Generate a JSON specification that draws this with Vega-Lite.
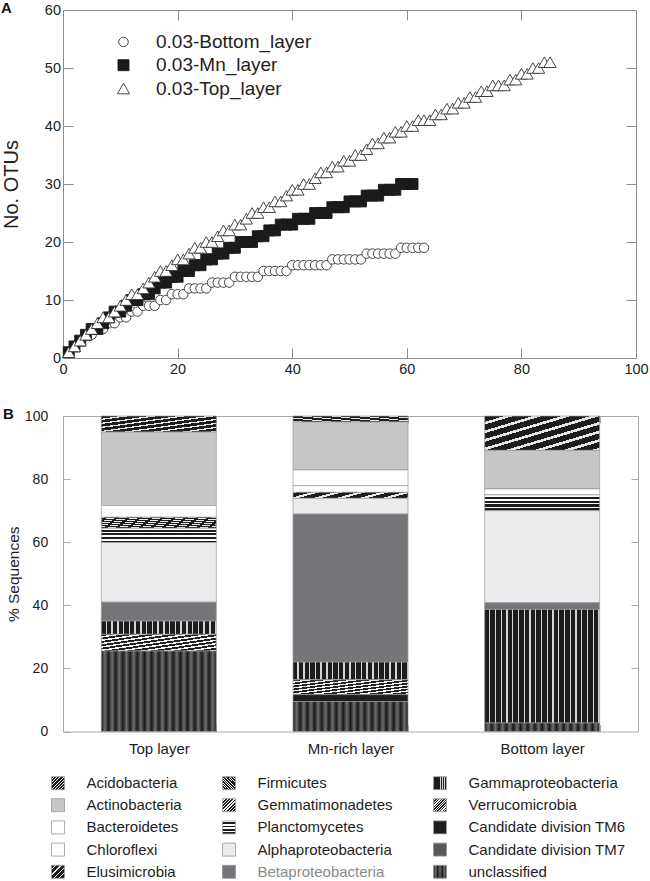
{
  "$schema": "https://vega.github.io/schema/vega-lite/v6.json",
  "padding": 0,
  "autosize": {"type": "pad"},
  "spacing": 29,
  "resolve": {
    "scale": {"x": "independent", "y": "independent", "fill": "independent", "stroke": "independent", "shape": "independent", "size": "independent"},
    "legend": {"fill": "independent", "stroke": "independent", "shape": "independent", "size": "independent"},
    "axis": {"x": "independent", "y": "independent"}
  },
  "config": {
    "font": "Liberation Sans",
    "view": {"strokeWidth": 1},
    "axis": {"labelFont": "Liberation Sans", "titleFont": "Liberation Sans", "labelColor": "#222", "titleColor": "#222", "titleFontWeight": "normal", "tickColor": "#8c8c8c", "tickWidth": 1, "domain": false, "grid": false, "labelFlush": false, "labelOverlap": false, "labelBound": false},
    "legend": {"labelFont": "Liberation Sans", "labelColor": "#222"},
    "title": {"font": "Liberation Sans", "fontWeight": "bold", "color": "#111"}
  },
  "vconcat": [
    {
      "width": 573,
      "height": 348,
      "view": {"stroke": "#8c8c8c"},
      "title": {"text": "A", "anchor": "start", "frame": "group", "orient": "top", "baseline": "middle", "offset": -6, "dy": 14.7, "dx": -62, "fontSize": 15},
      "data": {"values": [
        {"series":"0.03-Bottom_layer","seqs":1,"otus":1},{"series":"0.03-Bottom_layer","seqs":2,"otus":2},{"series":"0.03-Bottom_layer","seqs":3,"otus":3},{"series":"0.03-Bottom_layer","seqs":4,"otus":4},{"series":"0.03-Bottom_layer","seqs":5,"otus":4},{"series":"0.03-Bottom_layer","seqs":6,"otus":5},{"series":"0.03-Bottom_layer","seqs":7,"otus":5},{"series":"0.03-Bottom_layer","seqs":8,"otus":6},{"series":"0.03-Bottom_layer","seqs":9,"otus":6},{"series":"0.03-Bottom_layer","seqs":10,"otus":7},
        {"series":"0.03-Bottom_layer","seqs":11,"otus":7},{"series":"0.03-Bottom_layer","seqs":12,"otus":8},{"series":"0.03-Bottom_layer","seqs":13,"otus":8},{"series":"0.03-Bottom_layer","seqs":14,"otus":9},{"series":"0.03-Bottom_layer","seqs":15,"otus":9},{"series":"0.03-Bottom_layer","seqs":16,"otus":9},{"series":"0.03-Bottom_layer","seqs":17,"otus":10},{"series":"0.03-Bottom_layer","seqs":18,"otus":10},{"series":"0.03-Bottom_layer","seqs":19,"otus":11},{"series":"0.03-Bottom_layer","seqs":20,"otus":11},
        {"series":"0.03-Bottom_layer","seqs":21,"otus":11},{"series":"0.03-Bottom_layer","seqs":22,"otus":12},{"series":"0.03-Bottom_layer","seqs":23,"otus":12},{"series":"0.03-Bottom_layer","seqs":24,"otus":12},{"series":"0.03-Bottom_layer","seqs":25,"otus":12},{"series":"0.03-Bottom_layer","seqs":26,"otus":13},{"series":"0.03-Bottom_layer","seqs":27,"otus":13},{"series":"0.03-Bottom_layer","seqs":28,"otus":13},{"series":"0.03-Bottom_layer","seqs":29,"otus":13},{"series":"0.03-Bottom_layer","seqs":30,"otus":14},
        {"series":"0.03-Bottom_layer","seqs":31,"otus":14},{"series":"0.03-Bottom_layer","seqs":32,"otus":14},{"series":"0.03-Bottom_layer","seqs":33,"otus":14},{"series":"0.03-Bottom_layer","seqs":34,"otus":14},{"series":"0.03-Bottom_layer","seqs":35,"otus":15},{"series":"0.03-Bottom_layer","seqs":36,"otus":15},{"series":"0.03-Bottom_layer","seqs":37,"otus":15},{"series":"0.03-Bottom_layer","seqs":38,"otus":15},{"series":"0.03-Bottom_layer","seqs":39,"otus":15},{"series":"0.03-Bottom_layer","seqs":40,"otus":16},
        {"series":"0.03-Bottom_layer","seqs":41,"otus":16},{"series":"0.03-Bottom_layer","seqs":42,"otus":16},{"series":"0.03-Bottom_layer","seqs":43,"otus":16},{"series":"0.03-Bottom_layer","seqs":44,"otus":16},{"series":"0.03-Bottom_layer","seqs":45,"otus":16},{"series":"0.03-Bottom_layer","seqs":46,"otus":16},{"series":"0.03-Bottom_layer","seqs":47,"otus":17},{"series":"0.03-Bottom_layer","seqs":48,"otus":17},{"series":"0.03-Bottom_layer","seqs":49,"otus":17},{"series":"0.03-Bottom_layer","seqs":50,"otus":17},
        {"series":"0.03-Bottom_layer","seqs":51,"otus":17},{"series":"0.03-Bottom_layer","seqs":52,"otus":17},{"series":"0.03-Bottom_layer","seqs":53,"otus":18},{"series":"0.03-Bottom_layer","seqs":54,"otus":18},{"series":"0.03-Bottom_layer","seqs":55,"otus":18},{"series":"0.03-Bottom_layer","seqs":56,"otus":18},{"series":"0.03-Bottom_layer","seqs":57,"otus":18},{"series":"0.03-Bottom_layer","seqs":58,"otus":18},{"series":"0.03-Bottom_layer","seqs":59,"otus":19},{"series":"0.03-Bottom_layer","seqs":60,"otus":19},
        {"series":"0.03-Bottom_layer","seqs":61,"otus":19},{"series":"0.03-Bottom_layer","seqs":62,"otus":19},{"series":"0.03-Bottom_layer","seqs":63,"otus":19},
        {"series":"0.03-Mn_layer","seqs":1,"otus":1},{"series":"0.03-Mn_layer","seqs":2,"otus":2},{"series":"0.03-Mn_layer","seqs":3,"otus":3},{"series":"0.03-Mn_layer","seqs":4,"otus":4},{"series":"0.03-Mn_layer","seqs":5,"otus":5},{"series":"0.03-Mn_layer","seqs":6,"otus":5},{"series":"0.03-Mn_layer","seqs":7,"otus":6},{"series":"0.03-Mn_layer","seqs":8,"otus":7},{"series":"0.03-Mn_layer","seqs":9,"otus":8},{"series":"0.03-Mn_layer","seqs":10,"otus":8},
        {"series":"0.03-Mn_layer","seqs":11,"otus":9},{"series":"0.03-Mn_layer","seqs":12,"otus":10},{"series":"0.03-Mn_layer","seqs":13,"otus":10},{"series":"0.03-Mn_layer","seqs":14,"otus":11},{"series":"0.03-Mn_layer","seqs":15,"otus":11},{"series":"0.03-Mn_layer","seqs":16,"otus":12},{"series":"0.03-Mn_layer","seqs":17,"otus":13},{"series":"0.03-Mn_layer","seqs":18,"otus":13},{"series":"0.03-Mn_layer","seqs":19,"otus":14},{"series":"0.03-Mn_layer","seqs":20,"otus":14},
        {"series":"0.03-Mn_layer","seqs":21,"otus":15},{"series":"0.03-Mn_layer","seqs":22,"otus":15},{"series":"0.03-Mn_layer","seqs":23,"otus":16},{"series":"0.03-Mn_layer","seqs":24,"otus":16},{"series":"0.03-Mn_layer","seqs":25,"otus":17},{"series":"0.03-Mn_layer","seqs":26,"otus":17},{"series":"0.03-Mn_layer","seqs":27,"otus":18},{"series":"0.03-Mn_layer","seqs":28,"otus":18},{"series":"0.03-Mn_layer","seqs":29,"otus":19},{"series":"0.03-Mn_layer","seqs":30,"otus":19},
        {"series":"0.03-Mn_layer","seqs":31,"otus":20},{"series":"0.03-Mn_layer","seqs":32,"otus":20},{"series":"0.03-Mn_layer","seqs":33,"otus":20},{"series":"0.03-Mn_layer","seqs":34,"otus":21},{"series":"0.03-Mn_layer","seqs":35,"otus":21},{"series":"0.03-Mn_layer","seqs":36,"otus":22},{"series":"0.03-Mn_layer","seqs":37,"otus":22},{"series":"0.03-Mn_layer","seqs":38,"otus":23},{"series":"0.03-Mn_layer","seqs":39,"otus":23},{"series":"0.03-Mn_layer","seqs":40,"otus":23},
        {"series":"0.03-Mn_layer","seqs":41,"otus":24},{"series":"0.03-Mn_layer","seqs":42,"otus":24},{"series":"0.03-Mn_layer","seqs":43,"otus":24},{"series":"0.03-Mn_layer","seqs":44,"otus":25},{"series":"0.03-Mn_layer","seqs":45,"otus":25},{"series":"0.03-Mn_layer","seqs":46,"otus":25},{"series":"0.03-Mn_layer","seqs":47,"otus":26},{"series":"0.03-Mn_layer","seqs":48,"otus":26},{"series":"0.03-Mn_layer","seqs":49,"otus":26},{"series":"0.03-Mn_layer","seqs":50,"otus":27},
        {"series":"0.03-Mn_layer","seqs":51,"otus":27},{"series":"0.03-Mn_layer","seqs":52,"otus":27},{"series":"0.03-Mn_layer","seqs":53,"otus":28},{"series":"0.03-Mn_layer","seqs":54,"otus":28},{"series":"0.03-Mn_layer","seqs":55,"otus":28},{"series":"0.03-Mn_layer","seqs":56,"otus":29},{"series":"0.03-Mn_layer","seqs":57,"otus":29},{"series":"0.03-Mn_layer","seqs":58,"otus":29},{"series":"0.03-Mn_layer","seqs":59,"otus":30},{"series":"0.03-Mn_layer","seqs":60,"otus":30},
        {"series":"0.03-Mn_layer","seqs":61,"otus":30},
        {"series":"0.03-Top_layer","seqs":1,"otus":1},{"series":"0.03-Top_layer","seqs":2,"otus":2},{"series":"0.03-Top_layer","seqs":3,"otus":3},{"series":"0.03-Top_layer","seqs":4,"otus":4},{"series":"0.03-Top_layer","seqs":5,"otus":5},{"series":"0.03-Top_layer","seqs":6,"otus":6},{"series":"0.03-Top_layer","seqs":7,"otus":7},{"series":"0.03-Top_layer","seqs":8,"otus":7},{"series":"0.03-Top_layer","seqs":9,"otus":8},{"series":"0.03-Top_layer","seqs":10,"otus":9},
        {"series":"0.03-Top_layer","seqs":11,"otus":10},{"series":"0.03-Top_layer","seqs":12,"otus":11},{"series":"0.03-Top_layer","seqs":13,"otus":11},{"series":"0.03-Top_layer","seqs":14,"otus":12},{"series":"0.03-Top_layer","seqs":15,"otus":13},{"series":"0.03-Top_layer","seqs":16,"otus":14},{"series":"0.03-Top_layer","seqs":17,"otus":15},{"series":"0.03-Top_layer","seqs":18,"otus":15},{"series":"0.03-Top_layer","seqs":19,"otus":16},{"series":"0.03-Top_layer","seqs":20,"otus":17},
        {"series":"0.03-Top_layer","seqs":21,"otus":17},{"series":"0.03-Top_layer","seqs":22,"otus":18},{"series":"0.03-Top_layer","seqs":23,"otus":19},{"series":"0.03-Top_layer","seqs":24,"otus":19},{"series":"0.03-Top_layer","seqs":25,"otus":20},{"series":"0.03-Top_layer","seqs":26,"otus":20},{"series":"0.03-Top_layer","seqs":27,"otus":21},{"series":"0.03-Top_layer","seqs":28,"otus":22},{"series":"0.03-Top_layer","seqs":29,"otus":22},{"series":"0.03-Top_layer","seqs":30,"otus":23},
        {"series":"0.03-Top_layer","seqs":31,"otus":23},{"series":"0.03-Top_layer","seqs":32,"otus":24},{"series":"0.03-Top_layer","seqs":33,"otus":25},{"series":"0.03-Top_layer","seqs":34,"otus":25},{"series":"0.03-Top_layer","seqs":35,"otus":26},{"series":"0.03-Top_layer","seqs":36,"otus":26},{"series":"0.03-Top_layer","seqs":37,"otus":27},{"series":"0.03-Top_layer","seqs":38,"otus":27},{"series":"0.03-Top_layer","seqs":39,"otus":28},{"series":"0.03-Top_layer","seqs":40,"otus":29},
        {"series":"0.03-Top_layer","seqs":41,"otus":29},{"series":"0.03-Top_layer","seqs":42,"otus":30},{"series":"0.03-Top_layer","seqs":43,"otus":30},{"series":"0.03-Top_layer","seqs":44,"otus":31},{"series":"0.03-Top_layer","seqs":45,"otus":32},{"series":"0.03-Top_layer","seqs":46,"otus":32},{"series":"0.03-Top_layer","seqs":47,"otus":33},{"series":"0.03-Top_layer","seqs":48,"otus":33},{"series":"0.03-Top_layer","seqs":49,"otus":34},{"series":"0.03-Top_layer","seqs":50,"otus":34},
        {"series":"0.03-Top_layer","seqs":51,"otus":35},{"series":"0.03-Top_layer","seqs":52,"otus":35},{"series":"0.03-Top_layer","seqs":53,"otus":36},{"series":"0.03-Top_layer","seqs":54,"otus":37},{"series":"0.03-Top_layer","seqs":55,"otus":37},{"series":"0.03-Top_layer","seqs":56,"otus":38},{"series":"0.03-Top_layer","seqs":57,"otus":38},{"series":"0.03-Top_layer","seqs":58,"otus":39},{"series":"0.03-Top_layer","seqs":59,"otus":39},{"series":"0.03-Top_layer","seqs":60,"otus":40},
        {"series":"0.03-Top_layer","seqs":61,"otus":40},{"series":"0.03-Top_layer","seqs":62,"otus":41},{"series":"0.03-Top_layer","seqs":63,"otus":41},{"series":"0.03-Top_layer","seqs":64,"otus":41},{"series":"0.03-Top_layer","seqs":65,"otus":42},{"series":"0.03-Top_layer","seqs":66,"otus":42},{"series":"0.03-Top_layer","seqs":67,"otus":43},{"series":"0.03-Top_layer","seqs":68,"otus":43},{"series":"0.03-Top_layer","seqs":69,"otus":44},{"series":"0.03-Top_layer","seqs":70,"otus":44},
        {"series":"0.03-Top_layer","seqs":71,"otus":45},{"series":"0.03-Top_layer","seqs":72,"otus":45},{"series":"0.03-Top_layer","seqs":73,"otus":46},{"series":"0.03-Top_layer","seqs":74,"otus":46},{"series":"0.03-Top_layer","seqs":75,"otus":47},{"series":"0.03-Top_layer","seqs":76,"otus":47},{"series":"0.03-Top_layer","seqs":77,"otus":47},{"series":"0.03-Top_layer","seqs":78,"otus":48},{"series":"0.03-Top_layer","seqs":79,"otus":48},{"series":"0.03-Top_layer","seqs":80,"otus":49},
        {"series":"0.03-Top_layer","seqs":81,"otus":49},{"series":"0.03-Top_layer","seqs":82,"otus":50},{"series":"0.03-Top_layer","seqs":83,"otus":50},{"series":"0.03-Top_layer","seqs":84,"otus":51},{"series":"0.03-Top_layer","seqs":85,"otus":51}
      ]},
      "layer": [
        {
          "mark": {"type": "point", "filled": true, "strokeWidth": 0.9, "opacity": 1},
          "encoding": {
            "x": {"field": "seqs", "type": "quantitative", "scale": {"domain": [0, 100], "nice": false}, "axis": {"orient": "bottom", "values": [0, 20, 40, 60, 80, 100], "tickSize": -10, "labelPadding": 14.7, "title": null, "labelFontSize": 14.5}},
            "y": {"field": "otus", "type": "quantitative", "scale": {"domain": [0, 60], "nice": false}, "axis": {"orient": "left", "values": [0, 10, 20, 30, 40, 50, 60], "tickSize": -10, "labelPadding": 12.5, "labelFontSize": 14.5, "title": "No. OTUs", "titleFontSize": 20, "titlePadding": 23}},
            "shape": {"field": "series", "type": "nominal", "scale": {"domain": ["0.03-Bottom_layer", "0.03-Mn_layer", "0.03-Top_layer"], "range": ["circle", "square", "triangle-up"]}, "legend": {"orient": "none", "legendX": 51, "legendY": 22.4, "title": null, "labelFontSize": 19, "labelOffset": 23, "rowPadding": 3.3, "padding": 0, "symbolStrokeWidth": 0.9}},
            "fill": {"field": "series", "type": "nominal", "scale": {"domain": ["0.03-Bottom_layer", "0.03-Mn_layer", "0.03-Top_layer"], "range": ["#ffffff", "#1b1b1b", "#ffffff"]}, "legend": {"orient": "none", "legendX": 51, "legendY": 22.4, "title": null, "labelFontSize": 19, "labelOffset": 23, "rowPadding": 3.3, "padding": 0, "symbolStrokeWidth": 0.9}},
            "stroke": {"field": "series", "type": "nominal", "scale": {"domain": ["0.03-Bottom_layer", "0.03-Mn_layer", "0.03-Top_layer"], "range": ["#333333", "#1b1b1b", "#333333"]}, "legend": {"orient": "none", "legendX": 51, "legendY": 22.4, "title": null, "labelFontSize": 19, "labelOffset": 23, "rowPadding": 3.3, "padding": 0, "symbolStrokeWidth": 0.9}},
            "size": {"field": "series", "type": "nominal", "scale": {"domain": ["0.03-Bottom_layer", "0.03-Mn_layer", "0.03-Top_layer"], "range": [90, 150, 120]}, "legend": {"orient": "none", "legendX": 51, "legendY": 22.4, "title": null, "labelFontSize": 19, "labelOffset": 23, "rowPadding": 3.3, "padding": 0, "symbolStrokeWidth": 0.9}}
          }
        },
        {
          "mark": {"type": "point", "opacity": 0},
          "encoding": {
            "x": {"field": "seqs", "type": "quantitative", "scale": {"domain": [0, 100], "nice": false}, "axis": {"orient": "top", "values": [20, 40, 60, 80], "tickSize": -10, "labels": false, "title": null}},
            "y": {"field": "otus", "type": "quantitative", "scale": {"domain": [0, 60], "nice": false}, "axis": {"orient": "right", "values": [10, 20, 30, 40, 50], "tickSize": -10, "labels": false, "title": null}}
          }
        }
      ],
      "resolve": {"axis": {"x": "independent", "y": "independent"}}
    },
    {
      "width": 575,
      "height": 315.5,
      "view": {"stroke": "#aaaaaa"},
      "title": {"text": "B", "anchor": "start", "frame": "group", "orient": "top", "baseline": "middle", "offset": -4.75, "dy": 15, "dx": -60, "fontSize": 15},
      "data": {"values": [
        {"layer":"Top layer","taxon":"Acidobacteria","rank":1,"pct":5.1},
        {"layer":"Top layer","taxon":"Actinobacteria","rank":2,"pct":23.3},
        {"layer":"Top layer","taxon":"Bacteroidetes","rank":3,"pct":3.7},
        {"layer":"Top layer","taxon":"Firmicutes","rank":6,"pct":3.5},
        {"layer":"Top layer","taxon":"Planctomycetes","rank":8,"pct":4.5},
        {"layer":"Top layer","taxon":"Alphaproteobacteria","rank":9,"pct":18.9},
        {"layer":"Top layer","taxon":"Betaproteobacteria","rank":10,"pct":6.0},
        {"layer":"Top layer","taxon":"Gammaproteobacteria","rank":11,"pct":4.2},
        {"layer":"Top layer","taxon":"Verrucomicrobia","rank":12,"pct":5.3},
        {"layer":"Top layer","taxon":"unclassified","rank":15,"pct":25.5},
        {"layer":"Mn-rich layer","taxon":"Acidobacteria","rank":1,"pct":1.9},
        {"layer":"Mn-rich layer","taxon":"Actinobacteria","rank":2,"pct":15.2},
        {"layer":"Mn-rich layer","taxon":"Bacteroidetes","rank":3,"pct":5.0},
        {"layer":"Mn-rich layer","taxon":"Chloroflexi","rank":4,"pct":2.1},
        {"layer":"Mn-rich layer","taxon":"Firmicutes","rank":6,"pct":1.9},
        {"layer":"Mn-rich layer","taxon":"Alphaproteobacteria","rank":9,"pct":5.0},
        {"layer":"Mn-rich layer","taxon":"Betaproteobacteria","rank":10,"pct":46.9},
        {"layer":"Mn-rich layer","taxon":"Gammaproteobacteria","rank":11,"pct":5.6},
        {"layer":"Mn-rich layer","taxon":"Verrucomicrobia","rank":12,"pct":4.7},
        {"layer":"Mn-rich layer","taxon":"Candidate division TM6","rank":13,"pct":2.2},
        {"layer":"Mn-rich layer","taxon":"unclassified","rank":15,"pct":9.5},
        {"layer":"Bottom layer","taxon":"Acidobacteria","rank":1,"pct":10.9},
        {"layer":"Bottom layer","taxon":"Actinobacteria","rank":2,"pct":12.2},
        {"layer":"Bottom layer","taxon":"Bacteroidetes","rank":3,"pct":1.9},
        {"layer":"Bottom layer","taxon":"Planctomycetes","rank":8,"pct":5.0},
        {"layer":"Bottom layer","taxon":"Alphaproteobacteria","rank":9,"pct":29.2},
        {"layer":"Bottom layer","taxon":"Betaproteobacteria","rank":10,"pct":2.1},
        {"layer":"Bottom layer","taxon":"Gammaproteobacteria","rank":11,"pct":36.0},
        {"layer":"Bottom layer","taxon":"unclassified","rank":15,"pct":2.7}
      ]},
      "layer": [
        {
          "mark": {"type": "bar", "stroke": "#9a9a9a", "strokeWidth": 0.7},
          "encoding": {
            "x": {"field": "layer", "type": "nominal", "scale": {"domain": ["Top layer", "Mn-rich layer", "Bottom layer"], "paddingInner": 0.4, "paddingOuter": 0.2}, "axis": {"orient": "bottom", "title": null, "labelAngle": 0, "tickBand": "extent", "tickSize": -7, "labelPadding": 16.5, "labelFontSize": 15, "tickColor": "#aaaaaa"}},
            "y": {"field": "pct", "type": "quantitative", "stack": "zero", "scale": {"domain": [0, 100], "nice": false}, "axis": {"orient": "left", "values": [0, 20, 40, 60, 80, 100], "tickSize": -7, "labelPadding": 22.3, "labelFontSize": 14, "tickColor": "#aaaaaa", "title": "% Sequences", "titleFontSize": 15.5, "titlePadding": 3}},
            "order": {"field": "rank", "sort": "descending"},
            "fill": {
              "field": "taxon", "type": "nominal",
              "scale": {
                "domain": ["Acidobacteria", "Actinobacteria", "Bacteroidetes", "Chloroflexi", "Elusimicrobia", "Firmicutes", "Gemmatimonadetes", "Planctomycetes", "Alphaproteobacteria", "Betaproteobacteria", "Gammaproteobacteria", "Verrucomicrobia", "Candidate division TM6", "Candidate division TM7", "unclassified"],
                "range": [
                  {"expr": "{gradient:'linear',x1:0,y1:0,x2:1,y2:1,stops:[{offset:0,color:'#1d1d1d'},{offset:0.085,color:'#1d1d1d'},{offset:0.085,color:'#e6e6e6'},{offset:0.125,color:'#e6e6e6'},{offset:0.125,color:'#1d1d1d'},{offset:0.21,color:'#1d1d1d'},{offset:0.21,color:'#e6e6e6'},{offset:0.25,color:'#e6e6e6'},{offset:0.25,color:'#1d1d1d'},{offset:0.335,color:'#1d1d1d'},{offset:0.335,color:'#e6e6e6'},{offset:0.375,color:'#e6e6e6'},{offset:0.375,color:'#1d1d1d'},{offset:0.46,color:'#1d1d1d'},{offset:0.46,color:'#e6e6e6'},{offset:0.5,color:'#e6e6e6'},{offset:0.5,color:'#1d1d1d'},{offset:0.585,color:'#1d1d1d'},{offset:0.585,color:'#e6e6e6'},{offset:0.625,color:'#e6e6e6'},{offset:0.625,color:'#1d1d1d'},{offset:0.71,color:'#1d1d1d'},{offset:0.71,color:'#e6e6e6'},{offset:0.75,color:'#e6e6e6'},{offset:0.75,color:'#1d1d1d'},{offset:0.835,color:'#1d1d1d'},{offset:0.835,color:'#e6e6e6'},{offset:0.875,color:'#e6e6e6'},{offset:0.875,color:'#1d1d1d'},{offset:0.96,color:'#1d1d1d'},{offset:0.96,color:'#e6e6e6'},{offset:1,color:'#e6e6e6'}]}"},
                  "#c5c6c8",
                  "#ffffff",
                  "#ffffff",
                  {"expr": "{gradient:'linear',x1:0,y1:0,x2:1,y2:1,stops:[{offset:0,color:'#1d1d1d'},{offset:0.15,color:'#1d1d1d'},{offset:0.15,color:'#eeeeee'},{offset:0.2,color:'#eeeeee'},{offset:0.2,color:'#1d1d1d'},{offset:0.35,color:'#1d1d1d'},{offset:0.35,color:'#eeeeee'},{offset:0.4,color:'#eeeeee'},{offset:0.4,color:'#1d1d1d'},{offset:0.55,color:'#1d1d1d'},{offset:0.55,color:'#eeeeee'},{offset:0.6,color:'#eeeeee'},{offset:0.6,color:'#1d1d1d'},{offset:0.75,color:'#1d1d1d'},{offset:0.75,color:'#eeeeee'},{offset:0.8,color:'#eeeeee'},{offset:0.8,color:'#1d1d1d'},{offset:0.95,color:'#1d1d1d'},{offset:0.95,color:'#eeeeee'},{offset:1,color:'#eeeeee'}]}"},
                  {"expr": "{gradient:'linear',x1:0,y1:1,x2:1,y2:0,stops:[{offset:0,color:'#1d1d1d'},{offset:0.065,color:'#1d1d1d'},{offset:0.065,color:'#ececec'},{offset:0.1,color:'#ececec'},{offset:0.1,color:'#1d1d1d'},{offset:0.165,color:'#1d1d1d'},{offset:0.165,color:'#ececec'},{offset:0.2,color:'#ececec'},{offset:0.2,color:'#1d1d1d'},{offset:0.265,color:'#1d1d1d'},{offset:0.265,color:'#ececec'},{offset:0.3,color:'#ececec'},{offset:0.3,color:'#1d1d1d'},{offset:0.365,color:'#1d1d1d'},{offset:0.365,color:'#ececec'},{offset:0.4,color:'#ececec'},{offset:0.4,color:'#1d1d1d'},{offset:0.465,color:'#1d1d1d'},{offset:0.465,color:'#ececec'},{offset:0.5,color:'#ececec'},{offset:0.5,color:'#1d1d1d'},{offset:0.565,color:'#1d1d1d'},{offset:0.565,color:'#ececec'},{offset:0.6,color:'#ececec'},{offset:0.6,color:'#1d1d1d'},{offset:0.665,color:'#1d1d1d'},{offset:0.665,color:'#ececec'},{offset:0.7,color:'#ececec'},{offset:0.7,color:'#1d1d1d'},{offset:0.765,color:'#1d1d1d'},{offset:0.765,color:'#ececec'},{offset:0.8,color:'#ececec'},{offset:0.8,color:'#1d1d1d'},{offset:0.865,color:'#1d1d1d'},{offset:0.865,color:'#ececec'},{offset:0.9,color:'#ececec'},{offset:0.9,color:'#1d1d1d'},{offset:0.965,color:'#1d1d1d'},{offset:0.965,color:'#ececec'},{offset:1,color:'#ececec'}]}"},
                  {"expr": "{gradient:'linear',x1:0,y1:0,x2:1,y2:1,stops:[{offset:0,color:'#1d1d1d'},{offset:0.0625,color:'#1d1d1d'},{offset:0.0625,color:'#f2f2f2'},{offset:0.125,color:'#f2f2f2'},{offset:0.125,color:'#1d1d1d'},{offset:0.1875,color:'#1d1d1d'},{offset:0.1875,color:'#f2f2f2'},{offset:0.25,color:'#f2f2f2'},{offset:0.25,color:'#1d1d1d'},{offset:0.3125,color:'#1d1d1d'},{offset:0.3125,color:'#f2f2f2'},{offset:0.375,color:'#f2f2f2'},{offset:0.375,color:'#1d1d1d'},{offset:0.4375,color:'#1d1d1d'},{offset:0.4375,color:'#f2f2f2'},{offset:0.5,color:'#f2f2f2'},{offset:0.5,color:'#1d1d1d'},{offset:0.5625,color:'#1d1d1d'},{offset:0.5625,color:'#f2f2f2'},{offset:0.625,color:'#f2f2f2'},{offset:0.625,color:'#1d1d1d'},{offset:0.6875,color:'#1d1d1d'},{offset:0.6875,color:'#f2f2f2'},{offset:0.75,color:'#f2f2f2'},{offset:0.75,color:'#1d1d1d'},{offset:0.8125,color:'#1d1d1d'},{offset:0.8125,color:'#f2f2f2'},{offset:0.875,color:'#f2f2f2'},{offset:0.875,color:'#1d1d1d'},{offset:0.9375,color:'#1d1d1d'},{offset:0.9375,color:'#f2f2f2'},{offset:1,color:'#f2f2f2'}]}"},
                  {"expr": "{gradient:'linear',x1:0,y1:0,x2:0,y2:1,stops:[{offset:0,color:'#ffffff'},{offset:0.11,color:'#ffffff'},{offset:0.11,color:'#1d1d1d'},{offset:0.25,color:'#1d1d1d'},{offset:0.25,color:'#ffffff'},{offset:0.36,color:'#ffffff'},{offset:0.36,color:'#1d1d1d'},{offset:0.5,color:'#1d1d1d'},{offset:0.5,color:'#ffffff'},{offset:0.61,color:'#ffffff'},{offset:0.61,color:'#1d1d1d'},{offset:0.75,color:'#1d1d1d'},{offset:0.75,color:'#ffffff'},{offset:0.86,color:'#ffffff'},{offset:0.86,color:'#1d1d1d'},{offset:1,color:'#1d1d1d'}]}"},
                  "#ebecee",
                  "#747579",
                  {"expr": "{gradient:'linear',x1:0,y1:0,x2:1,y2:0,stops:[{offset:0,color:'#1d1d1d'},{offset:0.038,color:'#1d1d1d'},{offset:0.038,color:'#d4d4d4'},{offset:0.05,color:'#d4d4d4'},{offset:0.05,color:'#1d1d1d'},{offset:0.088,color:'#1d1d1d'},{offset:0.088,color:'#d4d4d4'},{offset:0.1,color:'#d4d4d4'},{offset:0.1,color:'#1d1d1d'},{offset:0.138,color:'#1d1d1d'},{offset:0.138,color:'#d4d4d4'},{offset:0.15,color:'#d4d4d4'},{offset:0.15,color:'#1d1d1d'},{offset:0.188,color:'#1d1d1d'},{offset:0.188,color:'#d4d4d4'},{offset:0.2,color:'#d4d4d4'},{offset:0.2,color:'#1d1d1d'},{offset:0.238,color:'#1d1d1d'},{offset:0.238,color:'#d4d4d4'},{offset:0.25,color:'#d4d4d4'},{offset:0.25,color:'#1d1d1d'},{offset:0.288,color:'#1d1d1d'},{offset:0.288,color:'#d4d4d4'},{offset:0.3,color:'#d4d4d4'},{offset:0.3,color:'#1d1d1d'},{offset:0.338,color:'#1d1d1d'},{offset:0.338,color:'#d4d4d4'},{offset:0.35,color:'#d4d4d4'},{offset:0.35,color:'#1d1d1d'},{offset:0.388,color:'#1d1d1d'},{offset:0.388,color:'#d4d4d4'},{offset:0.4,color:'#d4d4d4'},{offset:0.4,color:'#1d1d1d'},{offset:0.438,color:'#1d1d1d'},{offset:0.438,color:'#d4d4d4'},{offset:0.45,color:'#d4d4d4'},{offset:0.45,color:'#1d1d1d'},{offset:0.488,color:'#1d1d1d'},{offset:0.488,color:'#d4d4d4'},{offset:0.5,color:'#d4d4d4'},{offset:0.5,color:'#1d1d1d'},{offset:0.538,color:'#1d1d1d'},{offset:0.538,color:'#d4d4d4'},{offset:0.55,color:'#d4d4d4'},{offset:0.55,color:'#1d1d1d'},{offset:0.588,color:'#1d1d1d'},{offset:0.588,color:'#d4d4d4'},{offset:0.6,color:'#d4d4d4'},{offset:0.6,color:'#1d1d1d'},{offset:0.638,color:'#1d1d1d'},{offset:0.638,color:'#d4d4d4'},{offset:0.65,color:'#d4d4d4'},{offset:0.65,color:'#1d1d1d'},{offset:0.688,color:'#1d1d1d'},{offset:0.688,color:'#d4d4d4'},{offset:0.7,color:'#d4d4d4'},{offset:0.7,color:'#1d1d1d'},{offset:0.738,color:'#1d1d1d'},{offset:0.738,color:'#d4d4d4'},{offset:0.75,color:'#d4d4d4'},{offset:0.75,color:'#1d1d1d'},{offset:0.788,color:'#1d1d1d'},{offset:0.788,color:'#d4d4d4'},{offset:0.8,color:'#d4d4d4'},{offset:0.8,color:'#1d1d1d'},{offset:0.838,color:'#1d1d1d'},{offset:0.838,color:'#d4d4d4'},{offset:0.85,color:'#d4d4d4'},{offset:0.85,color:'#1d1d1d'},{offset:0.888,color:'#1d1d1d'},{offset:0.888,color:'#d4d4d4'},{offset:0.9,color:'#d4d4d4'},{offset:0.9,color:'#1d1d1d'},{offset:0.938,color:'#1d1d1d'},{offset:0.938,color:'#d4d4d4'},{offset:0.95,color:'#d4d4d4'},{offset:0.95,color:'#1d1d1d'},{offset:0.988,color:'#1d1d1d'},{offset:0.988,color:'#d4d4d4'},{offset:1,color:'#d4d4d4'}]}"},
                  {"expr": "{gradient:'linear',x1:0,y1:0,x2:1,y2:1,stops:[{offset:0,color:'#222222'},{offset:0.055,color:'#222222'},{offset:0.055,color:'#f4f4f4'},{offset:0.1,color:'#f4f4f4'},{offset:0.1,color:'#222222'},{offset:0.155,color:'#222222'},{offset:0.155,color:'#f4f4f4'},{offset:0.2,color:'#f4f4f4'},{offset:0.2,color:'#222222'},{offset:0.255,color:'#222222'},{offset:0.255,color:'#f4f4f4'},{offset:0.3,color:'#f4f4f4'},{offset:0.3,color:'#222222'},{offset:0.355,color:'#222222'},{offset:0.355,color:'#f4f4f4'},{offset:0.4,color:'#f4f4f4'},{offset:0.4,color:'#222222'},{offset:0.455,color:'#222222'},{offset:0.455,color:'#f4f4f4'},{offset:0.5,color:'#f4f4f4'},{offset:0.5,color:'#222222'},{offset:0.555,color:'#222222'},{offset:0.555,color:'#f4f4f4'},{offset:0.6,color:'#f4f4f4'},{offset:0.6,color:'#222222'},{offset:0.655,color:'#222222'},{offset:0.655,color:'#f4f4f4'},{offset:0.7,color:'#f4f4f4'},{offset:0.7,color:'#222222'},{offset:0.755,color:'#222222'},{offset:0.755,color:'#f4f4f4'},{offset:0.8,color:'#f4f4f4'},{offset:0.8,color:'#222222'},{offset:0.855,color:'#222222'},{offset:0.855,color:'#f4f4f4'},{offset:0.9,color:'#f4f4f4'},{offset:0.9,color:'#222222'},{offset:0.955,color:'#222222'},{offset:0.955,color:'#f4f4f4'},{offset:1,color:'#f4f4f4'}]}"},
                  "#1e1e1e",
                  "#595959",
                  {"expr": "{gradient:'linear',x1:0,y1:0,x2:1,y2:0,stops:[{offset:0,color:'#1a1a1a'},{offset:0.03125,color:'#6e6e6e'},{offset:0.0625,color:'#1a1a1a'},{offset:0.09375,color:'#6e6e6e'},{offset:0.125,color:'#1a1a1a'},{offset:0.15625,color:'#6e6e6e'},{offset:0.1875,color:'#1a1a1a'},{offset:0.21875,color:'#6e6e6e'},{offset:0.25,color:'#1a1a1a'},{offset:0.28125,color:'#6e6e6e'},{offset:0.3125,color:'#1a1a1a'},{offset:0.34375,color:'#6e6e6e'},{offset:0.375,color:'#1a1a1a'},{offset:0.40625,color:'#6e6e6e'},{offset:0.4375,color:'#1a1a1a'},{offset:0.46875,color:'#6e6e6e'},{offset:0.5,color:'#1a1a1a'},{offset:0.53125,color:'#6e6e6e'},{offset:0.5625,color:'#1a1a1a'},{offset:0.59375,color:'#6e6e6e'},{offset:0.625,color:'#1a1a1a'},{offset:0.65625,color:'#6e6e6e'},{offset:0.6875,color:'#1a1a1a'},{offset:0.71875,color:'#6e6e6e'},{offset:0.75,color:'#1a1a1a'},{offset:0.78125,color:'#6e6e6e'},{offset:0.8125,color:'#1a1a1a'},{offset:0.84375,color:'#6e6e6e'},{offset:0.875,color:'#1a1a1a'},{offset:0.90625,color:'#6e6e6e'},{offset:0.9375,color:'#1a1a1a'},{offset:0.96875,color:'#6e6e6e'},{offset:1,color:'#1a1a1a'}]}"}
                ]
              },
              "legend": {
                "orient": "none", "legendX": -12.5, "legendY": 359.5, "title": null, "columns": 3, "gridAlign": "each", "columnPadding": 38, "rowPadding": 5.2, "padding": 0,
                "symbolType": "square", "symbolSize": 169, "symbolStrokeColor": "#9a9a9a", "symbolStrokeWidth": 0.8,
                "labelFontSize": 15, "labelOffset": 21, "labelLimit": 300,
                "encode": {"labels": {"update": {"fill": {"signal": "datum.label === 'Betaproteobacteria' ? '#8a8a8a' : '#1e1e1e'"}}}}
              }
            }
          }
        },
        {
          "mark": {"type": "bar", "fillOpacity": 0, "strokeOpacity": 0},
          "encoding": {
            "x": {"field": "layer", "type": "nominal", "scale": {"domain": ["Top layer", "Mn-rich layer", "Bottom layer"], "paddingInner": 0.4, "paddingOuter": 0.2}, "axis": {"orient": "top", "title": null, "labels": false, "tickBand": "extent", "tickSize": -7, "tickColor": "#aaaaaa"}},
            "y": {"field": "pct", "type": "quantitative", "stack": "zero", "scale": {"domain": [0, 100], "nice": false}, "axis": {"orient": "right", "values": [20, 40, 60, 80], "labels": false, "title": null, "tickSize": -7, "tickColor": "#aaaaaa"}}
          }
        }
      ],
      "resolve": {"axis": {"x": "independent", "y": "independent"}}
    }
  ]
}
